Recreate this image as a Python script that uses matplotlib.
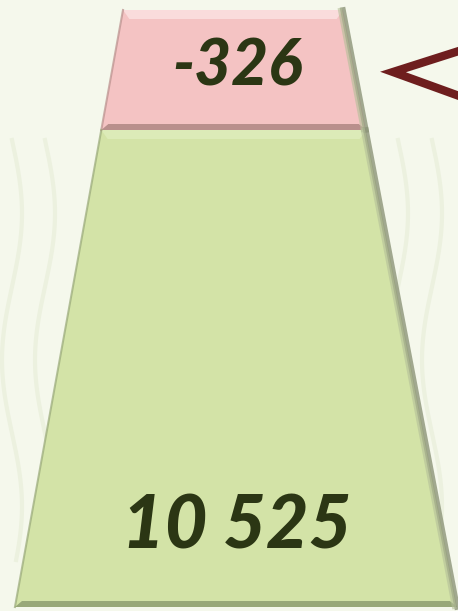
import matplotlib
matplotlib.use("Agg")
import matplotlib.pyplot as plt
from matplotlib.patches import Polygon
import numpy as np

# data
labels = ["-326", "10 525"]
values = [-326, 10525]
face_colors = ["#f4c3c3", "#d3e3a7"]
light_colors = ["#fadcdc", "#dcebb8"]
dark_colors = ["#b98f8c", "#98a878"]

W, H = 458, 611
fig = plt.figure(figsize=(W / 100, H / 100), dpi=100)
fig.patch.set_facecolor("#f5f8ec")
ax = fig.add_axes([0, 0, 1, 1])
ax.set_xlim(0, W)
ax.set_ylim(H, 0)
ax.axis("off")

# faint background pattern
t = np.linspace(0, 1, 200)
for x0 in (12, 45, 398, 432):
    ax.plot(x0 + 10 * np.sin(t * 9), 140 + t * 420, color="#ecf1df", lw=3, zorder=0)


def left(y):
    return 123 - 0.181 * (y - 10)


def right(y):
    return 343 + 0.191 * (y - 10)


bounds = [(10, 130), (130, 607)]
for (y0, y1), lab, fc, lc, dc in zip(bounds, labels, face_colors, light_colors, dark_colors):
    small = y1 - y0 < 200
    ax.add_patch(Polygon([(left(y0), y0), (right(y0), y0), (right(y1), y1), (left(y1), y1)],
                         closed=True, facecolor=fc, edgecolor="none", zorder=2))
    # top highlight
    b = 9
    ax.add_patch(Polygon([(left(y0), y0), (right(y0), y0), (right(y0 + b) - 8, y0 + b),
                          (left(y0 + b) + 8, y0 + b)],
                         closed=True, facecolor=lc, edgecolor="none", zorder=3))
    # bottom shade
    s = 6
    ax.add_patch(Polygon([(left(y1 - s) + 6, y1 - s), (right(y1 - s) - 6, y1 - s),
                          (right(y1), y1), (left(y1), y1)],
                         closed=True, facecolor=dc, edgecolor="none", zorder=3))
    # side edges
    ax.plot([left(y0), left(y1)], [y0, y1], color=dc, lw=1.5, alpha=0.7, zorder=4)
    ax.plot([right(y0), right(y1)], [y0, y1], color="#8c9478", lw=4, alpha=0.8, zorder=4)
    ax.plot([right(y0) - 3, right(y1) - 3], [y0, y1], color="#b4bf98", lw=3, alpha=0.6, zorder=4)
    ym = (y0 + y1) / 2 - 3 if small else 527
    ax.text(237, ym, lab, ha="center", va="center",
            fontsize=46 if small else 53, fontweight=900, fontstyle="italic",
            family=["Lato", "DejaVu Sans"], color="#2b3614", zorder=5)

# arrow marker
ax.plot([462, 393, 462], [50, 72, 97], color="#6e1e1e", lw=6, solid_joinstyle="miter",
        zorder=5)

fig.savefig("out.png", dpi=100, facecolor=fig.get_facecolor())
